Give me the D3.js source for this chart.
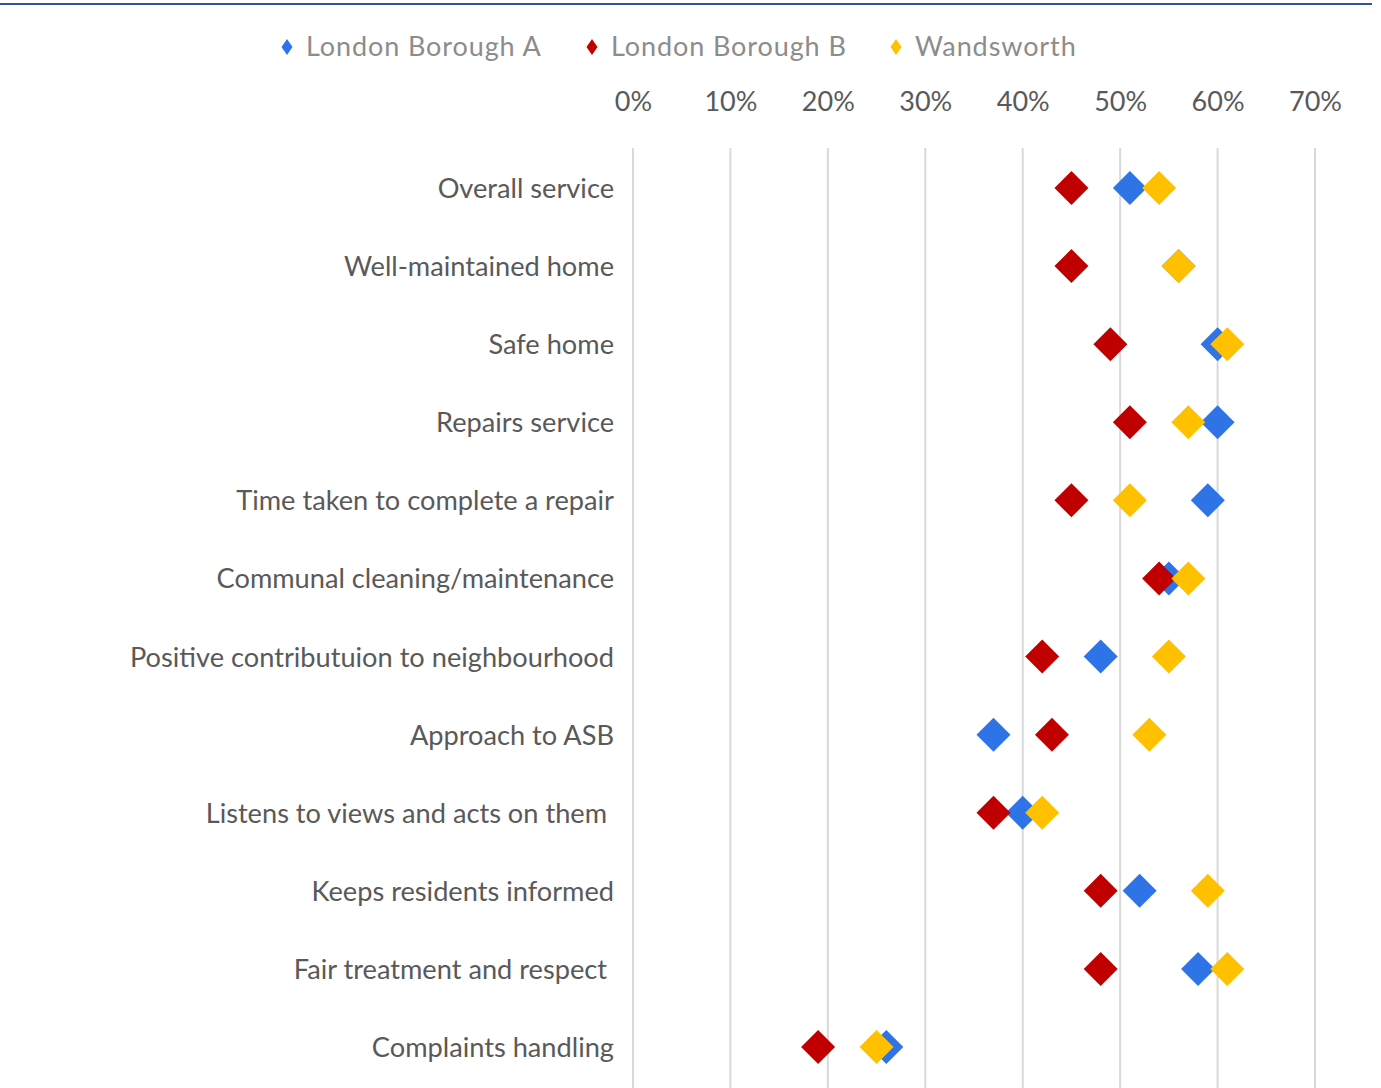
<!DOCTYPE html>
<html lang="en">
<head>
<meta charset="utf-8">
<title>Satisfaction comparison</title>
<script src="https://cdn.jsdelivr.net/npm/d3@7"></script>
<style>
  body { margin: 0; background: #fff; }
  text { font-family: Lato, "Open Sans", sans-serif; }
  .cat { white-space: pre; }
</style>
</head>
<body>
<script>
// categories, top to bottom
var categories = [
  "Overall service",
  "Well-maintained home",
  "Safe home",
  "Repairs service",
  "Time taken to complete a repair",
  "Communal cleaning/maintenance",
  "Positive contributuion to neighbourhood",
  "Approach to ASB",
  "Listens to views and acts on them ",
  "Keeps residents informed",
  "Fair treatment and respect ",
  "Complaints handling"
];

var seriesNames = ["London Borough A", "London Borough B", "Wandsworth"];

// values (share of residents)
var boroughA   = [0.51, 0.56, 0.60, 0.60, 0.59, 0.55, 0.48, 0.37, 0.40, 0.52, 0.58, 0.26];
var boroughB   = [0.45, 0.45, 0.49, 0.51, 0.45, 0.54, 0.42, 0.43, 0.37, 0.48, 0.48, 0.19];
var wandsworth = [0.54, 0.56, 0.61, 0.57, 0.51, 0.57, 0.55, 0.53, 0.42, 0.59, 0.61, 0.25];

var tickValues = [0, 0.1, 0.2, 0.3, 0.4, 0.5, 0.6, 0.7];

var colors = ["#2E74E6", "#C00000", "#FFC000"];

var w = 1381, h = 1088;

var svg = d3.select("body").append("svg")
  .attr("width", w)
  .attr("height", h);

// top rule
svg.append("line")
  .attr("x1", 0).attr("x2", 1372)
  .attr("y1", 4).attr("y2", 4)
  .attr("stroke", "#2F529B")
  .attr("stroke-width", 2);

var x = d3.scaleLinear().domain([0, 0.7]).range([633, 1315]);
var y = d3.scalePoint().domain(categories).range([188, 1047]);

// gridlines
svg.append("g").selectAll("line")
  .data(tickValues)
  .enter().append("line")
  .attr("x1", function(d) { return x(d); })
  .attr("x2", function(d) { return x(d); })
  .attr("y1", 148).attr("y2", 1088)
  .attr("stroke", "#d9d9d9")
  .attr("stroke-width", 2);

// top axis labels
var xAxis = d3.axisTop(x)
  .tickValues(tickValues)
  .tickFormat(d3.format(".0%"))
  .tickSize(0)
  .tickPadding(0);

var gx = svg.append("g")
  .attr("transform", "translate(0,111)")
  .call(xAxis);
gx.select(".domain").remove();
gx.selectAll("text")
  .attr("fill", "#595959")
  .style("font-size", "27px");

// category labels
var yAxis = d3.axisLeft(y).tickSize(0).tickPadding(0);
var gy = svg.append("g")
  .attr("transform", "translate(614,0)")
  .call(yAxis);
gy.select(".domain").remove();
gy.selectAll("text")
  .attr("class", "cat")
  .attr("fill", "#595959")
  .attr("dy", "0.35em")
  .style("font-size", "27.2px");

function diamond(r) {
  return "M0," + (-r) + "L" + r + ",0L0," + r + "L" + (-r) + ",0Z";
}

var series = [boroughA, boroughB, wandsworth];

series.forEach(function(vals, s) {
  svg.append("g").selectAll("path")
    .data(vals)
    .enter().append("path")
    .attr("d", diamond(17))
    .attr("transform", function(d, i) {
      return "translate(" + x(d) + "," + y(categories[i]) + ")";
    })
    .attr("fill", colors[s]);
});

// legend
var legendX = [287, 592, 896];
var legend = svg.append("g").selectAll("g")
  .data(seriesNames)
  .enter().append("g")
  .attr("transform", function(d, i) { return "translate(" + legendX[i] + ",47)"; });

legend.append("path")
  .attr("d", "M0,-8L5.5,0L0,8L-5.5,0Z")
  .attr("fill", function(d, i) { return colors[i]; });

legend.append("text")
  .attr("x", 19)
  .attr("dy", "0.35em")
  .attr("fill", "#8c8c8c")
  .style("font-size", "27px")
  .style("letter-spacing", "0.9px")
  .text(function(d) { return d; });
</script>
</body>
</html>
